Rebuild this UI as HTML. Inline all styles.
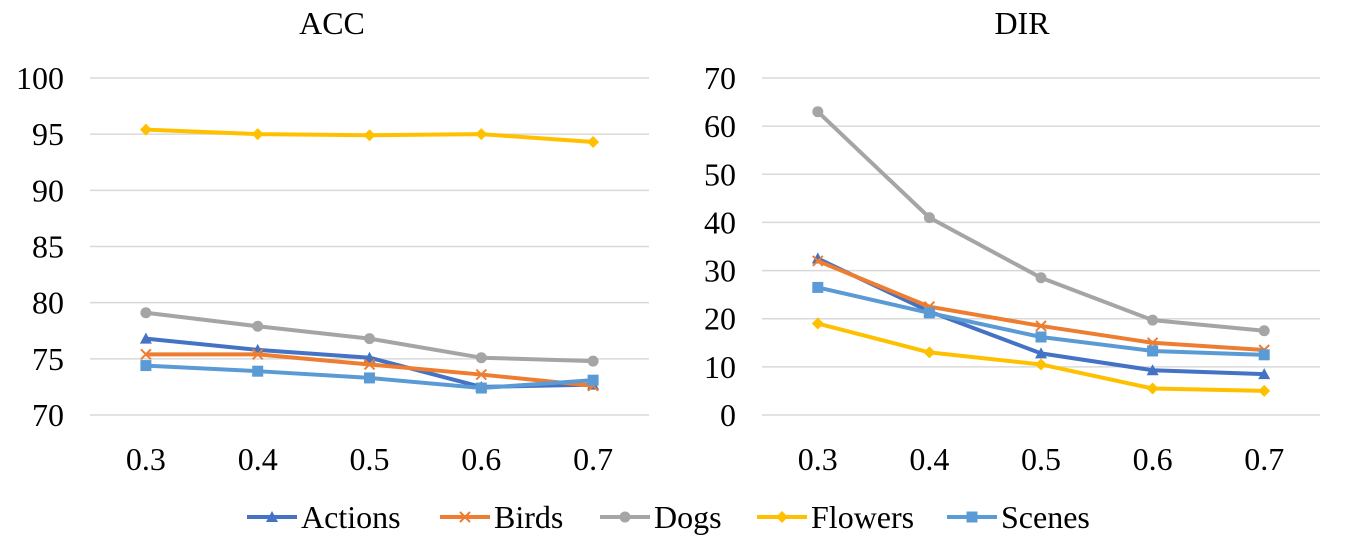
<!DOCTYPE html>
<html><head><meta charset="utf-8"><style>
body{margin:0;background:#fff;}
svg, svg text{font-family:"Liberation Serif","Times New Roman","DejaVu Serif",serif;}
</style></head><body>
<svg id="chart" width="1346" height="535" viewBox="0 0 1346 535" font-family="Liberation Serif, DejaVu Serif, serif"></svg>
<script>
const categories=["0.3","0.4","0.5","0.6","0.7"];
const seriesNames=["Actions","Birds","Dogs","Flowers","Scenes"];
const colors=["#4472C4","#ED7D31","#A5A5A5","#FFC000","#5B9BD5"];
const markers=["triangle","x","circle","diamond","square"];
const accActions=[76.8,75.8,75.1,72.5,72.7];
const accBirds=[75.4,75.4,74.5,73.6,72.6];
const accDogs=[79.1,77.9,76.8,75.1,74.8];
const accFlowers=[95.4,95.0,94.9,95.0,94.3];
const accScenes=[74.4,73.9,73.3,72.4,73.1];
const dirActions=[32.5,21.5,12.8,9.3,8.5];
const dirBirds=[32,22.5,18.5,15,13.5];
const dirDogs=[63,41,28.5,19.7,17.5];
const dirFlowers=[19,13,10.5,5.5,5];
const dirScenes=[26.5,21.2,16.2,13.3,12.5];
const accTicks=[70,75,80,85,90,95,100];
const dirTicks=[0,10,20,30,40,50,60,70];

const svg=document.getElementById('chart');
const NS="http://www.w3.org/2000/svg";
const FF="Liberation Serif, DejaVu Serif, serif";
function mk(tag,attrs,parent){const e=document.createElementNS(NS,tag);for(const k in attrs)e.setAttribute(k,attrs[k]);(parent||svg).appendChild(e);return e;}

function marker(g,type,x,y,c){
  let e;
  if(type==="triangle")e=mk('polygon',{points:`${x},${y-6} ${x-6},${y+5} ${x+6},${y+5}`,fill:c},g);
  else if(type==="x"){e=mk('path',{d:`M${x-5},${y-5}L${x+5},${y+5}M${x-5},${y+5}L${x+5},${y-5}`,stroke:c,'stroke-width':2},g);}
  else if(type==="circle")e=mk('circle',{cx:x,cy:y,r:5.5,fill:c},g);
  else if(type==="diamond")e=mk('polygon',{points:`${x},${y-6} ${x+6},${y} ${x},${y+6} ${x-6},${y}`,fill:c},g);
  else e=mk('rect',{x:x-5.5,y:y-5.5,width:11,height:11,fill:c},g);
  return e;
}

function panel(name,title,x0,x1,ticks,series,tickRight,titleX){
  const g=mk('g',{});
  
  
  const yTop=78,yBot=415,min=ticks[0],max=ticks[ticks.length-1];
  const yS=v=>yBot-(v-min)/(max-min)*(yBot-yTop);
  const step=(x1-x0)/categories.length;
  const xS=i=>x0+step*(i+0.5);
  const t=mk('text',{x:titleX,y:34,'font-size':32,'font-family':FF,'text-anchor':'middle',fill:'#000'},g);
  t.textContent=title;
  
  
  ticks.forEach(v=>{
    const l=mk('line',{x1:x0,x2:x1,y1:yS(v),y2:yS(v),stroke:'#d9d9d9','stroke-width':1.5},g);
    
    
    const tx=mk('text',{x:tickRight,y:yS(v)+11,'font-size':32,'font-family':FF,'text-anchor':'end',fill:'#000'},g);
    tx.textContent=v;
    
    
  });
  categories.forEach((c,i)=>{
    const tx=mk('text',{x:xS(i),y:470,'font-size':32,'font-family':FF,'text-anchor':'middle',fill:'#000'},g);
    tx.textContent=c;
    
    
  });
  series.forEach((vals,si)=>{
    const sg=mk('g',{},g);
    
    
    const p=mk('polyline',{points:vals.map((v,i)=>xS(i)+','+yS(v)).join(' '),fill:'none',stroke:colors[si],'stroke-width':4,'stroke-linejoin':'round'},sg);
    
    
    vals.forEach((v,i)=>{
      const m=marker(sg,markers[si],xS(i),yS(v),colors[si]);
      
      
    });
  });
}
panel('acc','ACC',90,649,accTicks,[accActions,accBirds,accDogs,accFlowers,accScenes],64,332);
panel('dir','DIR',762,1320,dirTicks,[dirActions,dirBirds,dirDogs,dirFlowers,dirScenes],736,1022);

const legendX=[247,440,600,757,947];
const lg=mk('g',{});


seriesNames.forEach((n,i)=>{
  const eg=mk('g',{},lg);
  
  
  const x=legendX[i],y=517;
  mk('line',{x1:x,x2:x+50,y1:y,y2:y,stroke:colors[i],'stroke-width':4},eg);
  marker(eg,markers[i],x+25,y,colors[i]);
  const t=mk('text',{x:x+54,y:y+11,'font-size':32,'font-family':FF,fill:'#000'},eg);
  t.textContent=n;
});
</script>
</body></html>
